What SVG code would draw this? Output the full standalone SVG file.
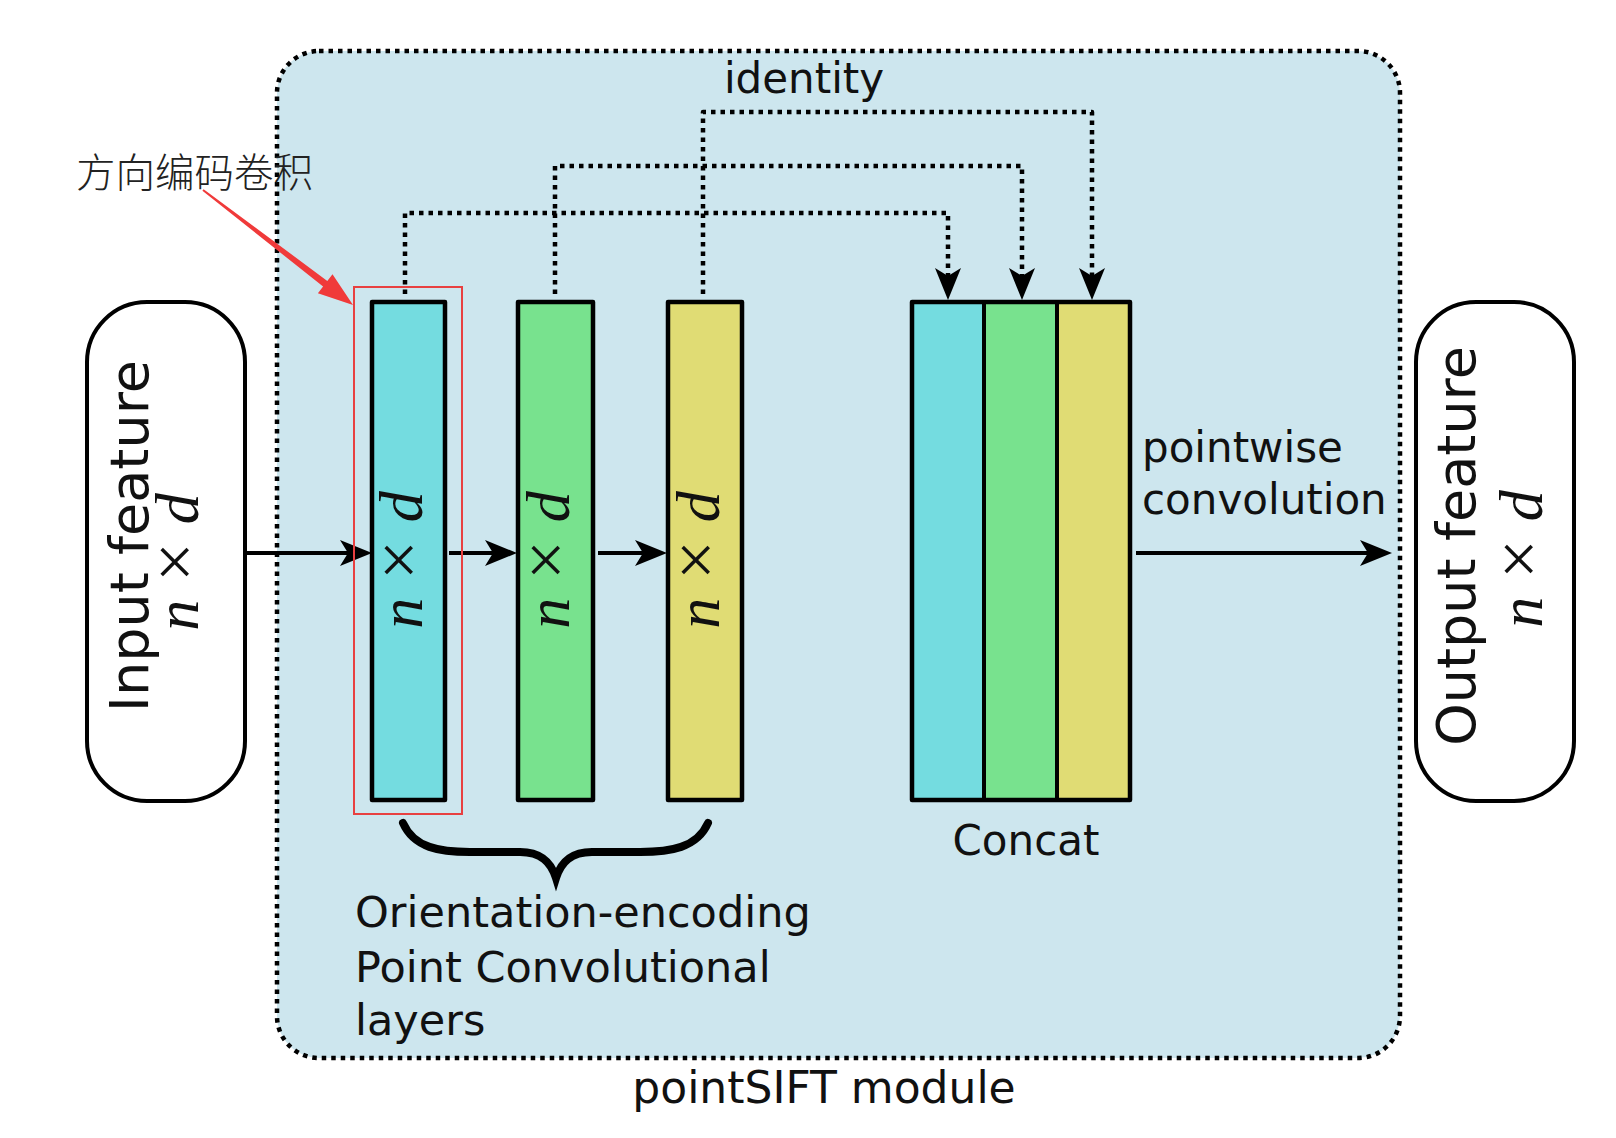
<svg xmlns="http://www.w3.org/2000/svg" width="1616" height="1138" viewBox="0 0 1616 1138">
<style>
.lbl{font-family:"DejaVu Sans","Liberation Sans",sans-serif;font-size:42px;fill:#111}
.big{font-family:"DejaVu Sans","Liberation Sans",sans-serif;font-size:54px;fill:#111}
.math{font-family:"Liberation Serif","DejaVu Serif",serif;font-size:62px;fill:#111}
.it{font-style:italic}
.x{font-size:70px}
.bar{stroke:#000;stroke-width:4.5;stroke-linejoin:round}
.dot{fill:none;stroke:#000;stroke-width:4.5;stroke-dasharray:4.5 5;stroke-linejoin:round}
.arr{fill:none;stroke:#000;stroke-width:3.8}
</style>
<defs>
<marker id="ah" viewBox="0 0 32 26" refX="22" refY="13" markerWidth="32" markerHeight="26" markerUnits="userSpaceOnUse" orient="auto">
<path d="M0,0 L32,13 L0,26 L8,13 z" fill="#000"/>
</marker>
</defs>
<rect width="1616" height="1138" fill="#fff"/>
<g id="module">
<rect x="277" y="51" width="1123" height="1007" rx="42" fill="#cde6ee" stroke="#000" stroke-width="4.5" stroke-dasharray="4.5 5"/>
<text class="lbl" x="824" y="1103" text-anchor="middle" style="font-size:44px">pointSIFT module</text>
</g>
<g id="input">
<rect x="87" y="302" width="158" height="499" rx="60" fill="#fff" stroke="#000" stroke-width="4"/>
<text class="big" transform="translate(148,536) rotate(-90)" text-anchor="middle">Input feature</text>
<text class="math" transform="translate(198,562) rotate(-90)" text-anchor="middle"><tspan class="it">n</tspan><tspan dx="18" class="x">×</tspan><tspan dx="18" class="it">d</tspan></text>
</g>
<g id="conv1">
<rect class="bar" x="372" y="302" width="73" height="498" fill="#74dce0"/>
<text class="math" transform="translate(422,560) rotate(-90)" text-anchor="middle"><tspan class="it">n</tspan><tspan dx="18" class="x">×</tspan><tspan dx="18" class="it">d</tspan></text>
</g>
<g id="conv2">
<rect class="bar" x="518" y="302" width="75" height="498" fill="#78e28e"/>
<text class="math" transform="translate(569,560) rotate(-90)" text-anchor="middle"><tspan class="it">n</tspan><tspan dx="18" class="x">×</tspan><tspan dx="18" class="it">d</tspan></text>
</g>
<g id="conv3">
<rect class="bar" x="668" y="302" width="74" height="498" fill="#e0dc74"/>
<text class="math" transform="translate(719,560) rotate(-90)" text-anchor="middle"><tspan class="it">n</tspan><tspan dx="18" class="x">×</tspan><tspan dx="18" class="it">d</tspan></text>
</g>
<g id="concat">
<rect x="912" y="302" width="72" height="498" fill="#74dce0"/>
<rect x="984" y="302" width="73" height="498" fill="#78e28e"/>
<rect x="1057" y="302" width="73" height="498" fill="#e0dc74"/>
<rect class="bar" x="912" y="302" width="218" height="498" fill="none"/>
<line x1="984" y1="302" x2="984" y2="800" stroke="#000" stroke-width="4"/>
<line x1="1057" y1="302" x2="1057" y2="800" stroke="#000" stroke-width="4"/>
<text class="lbl" x="1026" y="855" text-anchor="middle">Concat</text>
</g>
<g id="output">
<rect x="1416" y="302" width="158" height="499" rx="60" fill="#fff" stroke="#000" stroke-width="4"/>
<text class="big" transform="translate(1475,546) rotate(-90)" text-anchor="middle">Output feature</text>
<text class="math" transform="translate(1542,559) rotate(-90)" text-anchor="middle"><tspan class="it">n</tspan><tspan dx="18" class="x">×</tspan><tspan dx="18" class="it">d</tspan></text>
</g>
<g id="labels">
<text class="lbl" x="804" y="93" text-anchor="middle">identity</text>
<text class="lbl" x="1142" y="462">pointwise</text>
<text class="lbl" x="1142" y="514">convolution</text>
<text class="lbl" x="355" y="927" style="font-size:43px">Orientation-encoding</text>
<text class="lbl" x="355" y="982" style="font-size:43px">Point Convolutional</text>
<text class="lbl" x="355" y="1035" style="font-size:43px">layers</text>
<path d="M403,823 C414,848 440,852 470,852 L520,852 C541,852 551,862 556,878 C561,862 571,852 592,852 L640,852 C670,852 697,848 708,823" fill="none" stroke="#000" stroke-width="8" stroke-linecap="round" stroke-linejoin="miter"/>
</g>
<g id="connectors">
<line class="arr" x1="245" y1="553" x2="362" y2="553" marker-end="url(#ah)"/>
<line class="arr" x1="449" y1="553" x2="507" y2="553" marker-end="url(#ah)"/>
<line class="arr" x1="598" y1="553" x2="657" y2="553" marker-end="url(#ah)"/>
<line class="arr" x1="1136" y1="553" x2="1382" y2="553" marker-end="url(#ah)"/>
<path class="dot" d="M405,294 V213 H948 V290" marker-end="url(#ah)"/>
<path class="dot" d="M555,294 V166 H1022 V290" marker-end="url(#ah)"/>
<path class="dot" d="M703,294 V112 H1092 V290" marker-end="url(#ah)"/>
</g>
<g id="annotation">
<rect x="354" y="287" width="108" height="527" fill="none" stroke="#e84040" stroke-width="2"/>
<text x="76" y="187" font-family="Noto Sans CJK SC, sans-serif" font-weight="300" font-size="39.5" fill="#222">方向编码卷积</text>
<polygon points="203.6,189.2 327.3,280.9 332.5,274.2 353,305 317.9,293.2 323.1,286.5 202.4,190.8" fill="#f03a3a"/>
</g>
</svg>
